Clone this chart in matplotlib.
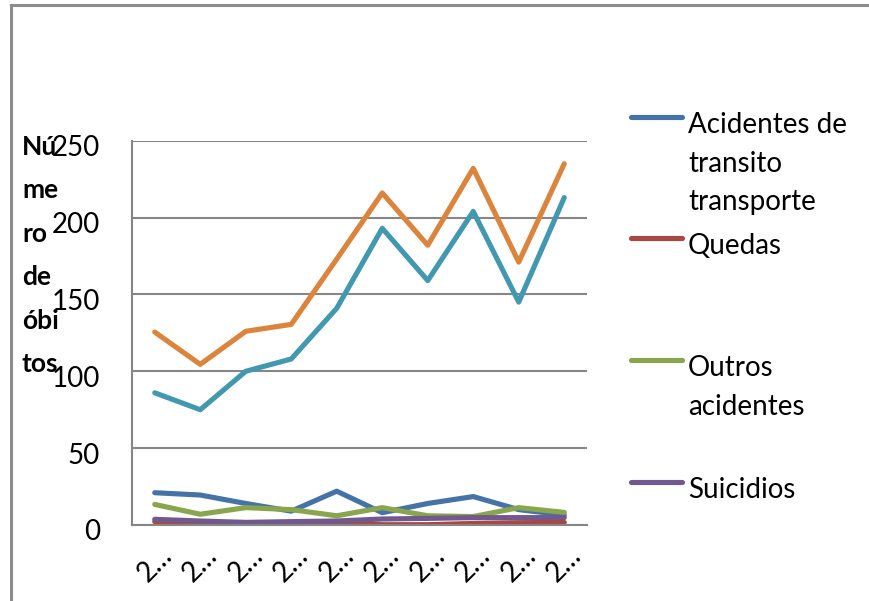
import matplotlib
matplotlib.use("Agg")
import matplotlib.pyplot as plt
from matplotlib.lines import Line2D
from matplotlib.transforms import ScaledTranslation

plt.rcParams['font.family'] = ['Lato', 'DejaVu Sans']

categories = ["2…"] * 10
acidentes_transito = [21, 19.5, 14, 9, 22, 8, 14, 18.5, 10, 6.5]
quedas = [2.2, 1, 0.6, 0.9, 1, 0.2, 0.2, 1, 1.5, 1.7]
outros_acidentes = [13.4, 7, 11.3, 10, 6, 11.3, 6, 5.5, 11.3, 8.2]
suicidios = [3.7, 2.6, 1.7, 2.2, 2.6, 3.9, 4.3, 4.8, 4.8, 4.8]
homicidios = [86, 75, 100, 108, 141, 193, 159, 204, 145, 213]
total = [125.5, 104.5, 126, 130.5, 173, 216, 182, 232, 171, 235]

legend_labels = ["Acidentes de\ntransito\ntransporte", "Quedas", "Outros\nacidentes", "Suicidios"]
y_label = "Nú\nme\nro\nde\nóbi\ntos"
y_ticks = [0, 50, 100, 150, 200, 250]

colors = {
    "acid": "#4572A7",
    "queda": "#AA4643",
    "outros": "#89A54E",
    "suic": "#71588F",
    "homic": "#4198AF",
    "total": "#DB843D",
}

W, H = 870, 601
fig = plt.figure(figsize=(W / 100, H / 100), dpi=100)

def fx(px):
    return px / W

def fy(py):
    return 1 - py / H

# outer chart frame (left + top edges visible)
fig.add_artist(Line2D([fx(11), fx(11)], [fy(601), fy(5)], color="#8c8c8c", lw=2.2))
fig.add_artist(Line2D([fx(11), fx(870)], [fy(5), fy(5)], color="#8c8c8c", lw=2.2))

ax = fig.add_axes([fx(132), fy(525), fx(587) - fx(132), fy(140.7) - fy(525)])
x = list(range(len(categories)))
lw = 3.7
kw = dict(lw=lw, solid_capstyle="round", solid_joinstyle="round")
ax.plot(x, homicidios, color=colors["homic"], **kw)
ax.plot(x, total, color=colors["total"], **kw)
ax.plot(x, acidentes_transito, color=colors["acid"], **kw)
ax.plot(x, outros_acidentes, color=colors["outros"], **kw)
ax.plot(x, quedas, color=colors["queda"], **kw)
ax.plot(x, suicidios, color=colors["suic"], **kw)

ax.set_xlim(-0.5, len(categories) - 0.5)
ax.set_ylim(0, 250)
ax.set_yticks(y_ticks)
ax.set_yticklabels([str(v) for v in y_ticks], fontsize=20)
ax.set_xticks(x)
ax.set_xticklabels(categories, fontsize=20, rotation=45, ha="center", va="top")
ax.tick_params(axis="both", length=0)
ax.tick_params(axis="y", pad=23)
ax.tick_params(axis="x", pad=12)
shift = ScaledTranslation(0, -5 / 100, fig.dpi_scale_trans)
for lab in ax.get_yticklabels():
    lab.set_transform(lab.get_transform() + shift)
ax.grid(axis="y", color="#868686", lw=1.5)
ax.set_axisbelow(True)
for s in ["top", "right"]:
    ax.spines[s].set_visible(False)
for s in ["left", "bottom"]:
    ax.spines[s].set_color("#868686")
    ax.spines[s].set_linewidth(1.5)

# y label, wrapped as in the reference
fig.text(fx(22), fy(135), y_label, fontsize=19, fontweight="bold", va="top", ha="left", linespacing=1.97)

# legend (only the visible entries)
leg_colors = [colors["acid"], colors["queda"], colors["outros"], colors["suic"]]
leg_y = [117, 238, 360, 482]
for lab, c, yy in zip(legend_labels, leg_colors, leg_y):
    fig.add_artist(Line2D([fx(631), fx(682)], [fy(yy), fy(yy)], color=c, lw=3.7, solid_capstyle="round"))
    fig.text(fx(688), fy(yy - 5), lab, fontsize=20, va="top", ha="left", linespacing=1.6)

fig.savefig("out.png", dpi=100)
